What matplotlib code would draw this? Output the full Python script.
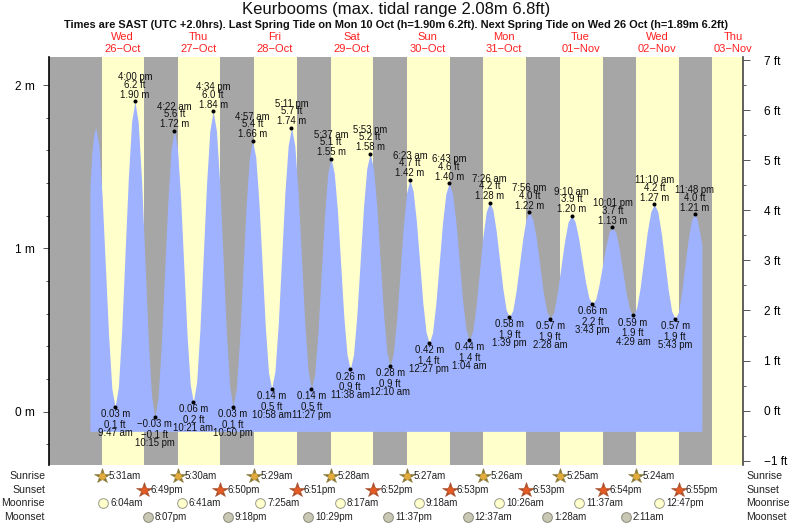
# Keurbooms tide chart, 26 Oct - 3 Nov
from datetime import datetime
from matplotlib import pyplot as plt
from matplotlib.ticker import MultipleLocator

plt.rcParams['font.family'] = ['Liberation Sans', 'DejaVu Sans']

title = 'Keurbooms (max. tidal range 2.08m 6.8ft)'
subtitle = ('Times are SAST (UTC +2.0hrs). Last Spring Tide on Mon 10 Oct (h=1.90m 6.2ft). '
            'Next Spring Tide on Wed 26 Oct (h=1.89m 6.2ft)')

day_names = ['Wed', 'Thu', 'Fri', 'Sat', 'Sun', 'Mon', 'Tue', 'Wed', 'Thu']
day_dates = ['26\u2212Oct', '27\u2212Oct', '28\u2212Oct', '29\u2212Oct', '30\u2212Oct',
             '31\u2212Oct', '01\u2212Nov', '02\u2212Nov', '03\u2212Nov']

sunrise = ['5:31am', '5:30am', '5:29am', '5:28am', '5:27am', '5:26am', '5:25am', '5:24am']
sunset = ['6:49pm', '6:50pm', '6:51pm', '6:52pm', '6:53pm', '6:53pm', '6:54pm', '6:55pm']
moonrise = ['6:04am', '6:41am', '7:25am', '8:17am', '9:18am', '10:26am', '11:37am', '12:47pm']
moonset = ['8:07pm', '9:18pm', '10:29pm', '11:37pm', '12:37am', '1:28am', '2:11am']
moonset_day = [0, 1, 2, 3, 5, 6, 7]
last_sunrise = '5:24am'  # 3 Nov, not labelled, only ends the last night band

# high and low waters
hilo_time = ['9:47 am', '4:00 pm', '10:15 pm',
             '4:22 am', '10:21 am', '4:34 pm', '10:50 pm',
             '4:57 am', '10:58 am', '5:11 pm', '11:27 pm',
             '5:37 am', '11:38 am', '5:53 pm',
             '12:10 am', '6:23 am', '12:27 pm', '6:43 pm',
             '1:04 am', '7:26 am', '1:39 pm', '7:56 pm',
             '2:28 am', '9:10 am', '3:43 pm', '10:01 pm',
             '4:29 am', '11:10 am', '5:43 pm', '11:48 pm']
hilo_day = [0, 0, 0,
            1, 1, 1, 1,
            2, 2, 2, 2,
            3, 3, 3,
            4, 4, 4, 4,
            5, 5, 5, 5,
            6, 6, 6, 6,
            7, 7, 7, 7]
hilo_m = [0.03, 1.90, -0.03,
          1.72, 0.06, 1.84, 0.03,
          1.66, 0.14, 1.74, 0.14,
          1.55, 0.26, 1.58,
          0.28, 1.42, 0.42, 1.40,
          0.44, 1.28, 0.58, 1.22,
          0.57, 1.20, 0.66, 1.13,
          0.59, 1.27, 0.57, 1.21]
hilo_ft = [0.1, 6.2, -0.1,
           5.6, 0.2, 6.0, 0.1,
           5.4, 0.5, 5.7, 0.5,
           5.1, 0.9, 5.2,
           0.9, 4.7, 1.4, 4.6,
           1.4, 4.2, 1.9, 4.0,
           1.9, 3.9, 2.2, 3.7,
           1.9, 4.2, 1.9, 4.0]

# tide curve, hours from 26 Oct 00:00 and metres
curve_hours = [1.88, 2.5, 3.1, 3.68, 4.70, 5.71, 6.73, 7.75, 8.76,
               9.78, 10.82, 11.85, 12.89, 13.93, 14.96,
               16.00, 17.04, 18.08, 19.13, 20.17, 21.21,
               22.25, 23.27, 24.29, 25.31, 26.33, 27.35,
               28.37, 29.37, 30.36, 31.36, 32.36, 33.35,
               34.35, 35.39, 36.42, 37.46, 38.50, 39.53,
               40.57, 41.61, 42.66, 43.70, 44.74, 45.79,
               46.83, 47.85, 48.87, 49.89, 50.91, 51.93,
               52.95, 53.95, 54.96, 55.96, 56.96, 57.97,
               58.97, 60.00, 61.04, 62.08, 63.11, 64.15,
               65.18, 66.22, 67.27, 68.32, 69.36, 70.41,
               71.45, 72.48, 73.51, 74.53, 75.56, 76.59,
               77.62, 78.62, 79.62, 80.63, 81.63, 82.63,
               83.63, 84.67, 85.71, 86.76, 87.80, 88.84,
               89.88, 90.93, 91.98, 93.03, 94.07, 95.12,
               96.17, 97.20, 98.24, 99.28, 100.31, 101.35,
               102.38, 103.39, 104.40, 105.42, 106.43, 107.44,
               108.45, 109.50, 110.54, 111.59, 112.63, 113.68,
               114.72, 115.78, 116.84, 117.90, 118.95, 120.01,
               121.07, 122.13, 123.19, 124.25, 125.31, 126.37,
               127.43, 128.47, 129.50, 130.54, 131.58, 132.61,
               133.65, 134.70, 135.74, 136.79, 137.84, 138.88,
               139.93, 141.02, 142.11, 143.20, 144.29, 145.38,
               146.47, 147.59, 148.70, 149.82, 150.94, 152.05,
               153.17, 154.26, 155.35, 156.45, 157.54, 158.63,
               159.72, 160.77, 161.82, 162.87, 163.92, 164.97,
               166.02, 167.10, 168.17, 169.25, 170.33, 171.40,
               172.48, 173.60, 174.71, 175.83, 176.94, 178.06,
               179.17, 180.26, 181.35, 182.45, 183.54, 184.63,
               185.72, 186.73, 187.75, 188.76, 189.77, 190.79,
               191.80, 192.60, 193.40, 194.10]
curve_m = [1.38, 1.59, 1.70, 1.74, 1.63, 1.31, 0.885, 0.46, 0.14,
           0.03, 0.155, 0.50, 0.965, 1.43, 1.775,
           1.90, 1.77, 1.42, 0.935, 0.45, 0.10,
           -0.03, 0.087, 0.41, 0.845, 1.28, 1.60,
           1.72, 1.61, 1.305, 0.89, 0.475, 0.17,
           0.06, 0.18, 0.505, 0.95, 1.395, 1.72,
           1.84, 1.72, 1.39, 0.935, 0.48, 0.15,
           0.03, 0.14, 0.44, 0.845, 1.25, 1.55,
           1.66, 1.56, 1.28, 0.90, 0.52, 0.24,
           0.14, 0.25, 0.54, 0.94, 1.34, 1.63,
           1.74, 1.63, 1.34, 0.94, 0.54, 0.25,
           0.14, 0.23, 0.49, 0.845, 1.20, 1.46,
           1.55, 1.46, 1.23, 0.905, 0.58, 0.35,
           0.26, 0.35, 0.59, 0.92, 1.25, 1.49,
           1.58, 1.49, 1.255, 0.93, 0.605, 0.37,
           0.28, 0.36, 0.565, 0.85, 1.135, 1.34,
           1.42, 1.35, 1.17, 0.92, 0.67, 0.49,
           0.42, 0.485, 0.665, 0.91, 1.155, 1.335,
           1.40, 1.335, 1.16, 0.92, 0.68, 0.505,
           0.44, 0.495, 0.65, 0.86, 1.07, 1.225,
           1.28, 1.235, 1.105, 0.93, 0.755, 0.625,
           0.58, 0.62, 0.74, 0.90, 1.06, 1.18,
           1.22, 1.175, 1.06, 0.895, 0.73, 0.615,
           0.57, 0.61, 0.73, 0.885, 1.04, 1.16,
           1.20, 1.165, 1.065, 0.93, 0.795, 0.695,
           0.66, 0.69, 0.78, 0.895, 1.01, 1.10,
           1.13, 1.095, 0.995, 0.86, 0.725, 0.625,
           0.59, 0.635, 0.76, 0.93, 1.10, 1.225,
           1.27, 1.225, 1.095, 0.92, 0.745, 0.615,
           0.57, 0.61, 0.73, 0.89, 1.05, 1.17,
           1.21, 1.18, 1.10, 1.02]
curve_floor = -0.12

GREY = '#a6a6a6'
YELLOW = '#ffffcc'
BLUE = '#9fb2ff'


def to_days(day, clock):
    t = datetime.strptime(clock.replace(' ', ''), '%I:%M%p')
    return day + (t.hour + t.minute / 60) / 24


def signed(text):
    return text.replace('-', '\u2212')


W, H = 793, 525
fig = plt.figure(figsize=(W / 100, H / 100), dpi=100)
ax = fig.add_axes([49 / W, 1 - 465 / H, 694 / W, 408 / H])
ax.set_xlim(-0.458, 8.626)
ax.set_ylim(-0.326, 2.172)
ax.set_facecolor(YELLOW)

# night bands
rise_days = [to_days(i, s) for i, s in enumerate(sunrise)] + [to_days(8, last_sunrise)]
set_days = [to_days(i, s) for i, s in enumerate(sunset)]
ax.axvspan(-0.458, rise_days[0], color=GREY, lw=0, zorder=1)
for i in range(len(set_days)):
    ax.axvspan(set_days[i], rise_days[i + 1], color=GREY, lw=0, zorder=1)

ax.fill_between([h / 24 for h in curve_hours], curve_m, curve_floor, color=BLUE, lw=0, zorder=2)

# high / low marks and their three line labels
for i in range(len(hilo_m)):
    x = to_days(hilo_day[i], hilo_time[i])
    y = hilo_m[i]
    ax.plot(x, y, 'o', color='k', ms=2.9, mew=0, zorder=4)
    offs = (4.7, 11.9, 17.3) if y > 1.0 else (-5.2, -13.0, -18.8)
    lines = (signed(f'{y:.2f} m'), signed(f'{hilo_ft[i]:.1f} ft'), hilo_time[i])
    for off, line in zip(offs, lines):
        ax.annotate(line, (x, y), xytext=(0, off), textcoords='offset points',
                    ha='center', va='center', fontsize=6.9, color='#111111', zorder=5)

# axes
for s in ['top', 'bottom', 'right']:
    ax.spines[s].set_visible(False)
ax.spines['left'].set_linewidth(1.2)
ax.spines['left'].set_zorder(6)
ax.set_xticks([])
ax.yaxis.set_minor_locator(MultipleLocator(0.2))
ax.set_yticks([0, 1, 2])
ax.set_yticklabels(['0 m', '1 m', '2 m'], fontsize=8.6)
ax.tick_params(axis='y', which='major', length=4.3, width=0.7, pad=5.8, color='#555555')
ax.tick_params(axis='y', which='minor', length=2.2, width=0.7, color='#555555')

ax_ft = ax.twinx()
ax_ft.set_ylim(-1.084, 7.06)
for s in ['top', 'bottom', 'left']:
    ax_ft.spines[s].set_visible(False)
ax_ft.spines['right'].set_linewidth(1.2)
ax_ft.spines['right'].set_color('#444444')
ft_ticks = list(range(-1, 8))
ax_ft.set_yticks(ft_ticks)
ax_ft.set_yticklabels([signed(f'{t} ft') for t in ft_ticks], fontsize=8.6)
ax_ft.yaxis.set_minor_locator(MultipleLocator(0.5))
ax_ft.tick_params(axis='y', which='major', length=5, width=0.7, pad=10, color='#555555')
ax_ft.tick_params(axis='y', which='minor', length=2.5, width=0.7, color='#555555')

# titles and day names
fig.text(396.5 / W, 1 - 9.5 / H, title, ha='center', va='center', fontsize=12, color='#111111')
fig.text(396.5 / W, 1 - 25 / H, subtitle, ha='center', va='center', fontsize=7.95,
         fontweight='bold', color='#111111')
trans = ax.get_xaxis_transform()
for i in range(len(day_names)):
    ax.text(i + 0.5, 1.049, day_names[i], transform=trans, ha='center', va='center',
            fontsize=8, color='#ff2020')
    ax.text(i + 0.5, 1.019, day_dates[i], transform=trans, ha='center', va='center',
            fontsize=8, color='#ff2020')

# sun and moon rows under the chart
rows = fig.add_axes([49 / W, 1 - 523.8 / H, 694 / W, 54.6 / H], sharex=ax)
rows.set_ylim(3.5, -0.5)
rows.axis('off')
row_names = ['Sunrise', 'Sunset', 'Moonrise', 'Moonset']
row_trans = rows.get_yaxis_transform()
for r, name in enumerate(row_names):
    rows.text(-0.0058, r, name, transform=row_trans, ha='right', va='center', fontsize=7.6, color='#222222')
    rows.text(1.0043, r, name, transform=row_trans, ha='left', va='center', fontsize=7.6, color='#222222')


def draw_row(r, days, clocks, face, edge, star):
    for day, clock in zip(days, clocks):
        x = to_days(day, clock)
        if star:
            rows.plot(x, r, '*', ms=11.5, mfc=edge, mec=edge, mew=0.4, clip_on=False)
            rows.plot(x, r, marker=(5, 0, 180), ms=5.6, mfc=face, mew=0, clip_on=False)
        else:
            rows.plot(x, r, 'o', ms=7, mfc=face, mec=edge, mew=0.7, clip_on=False)
        rows.annotate(clock, (x, r), xytext=(4.9, 0), textcoords='offset points',
                      ha='left', va='center', fontsize=7, color='#222222', annotation_clip=False)


draw_row(0, range(8), sunrise, '#e0ab3c', '#8a7a3a', True)
draw_row(1, range(8), sunset, '#e45a24', '#a8502c', True)
draw_row(2, range(8), moonrise, '#ffffcc', '#9a9a8a', False)
draw_row(3, moonset_day, moonset, '#c8c8b4', '#8a8a7a', False)

plt.savefig('out.png', dpi=100)
